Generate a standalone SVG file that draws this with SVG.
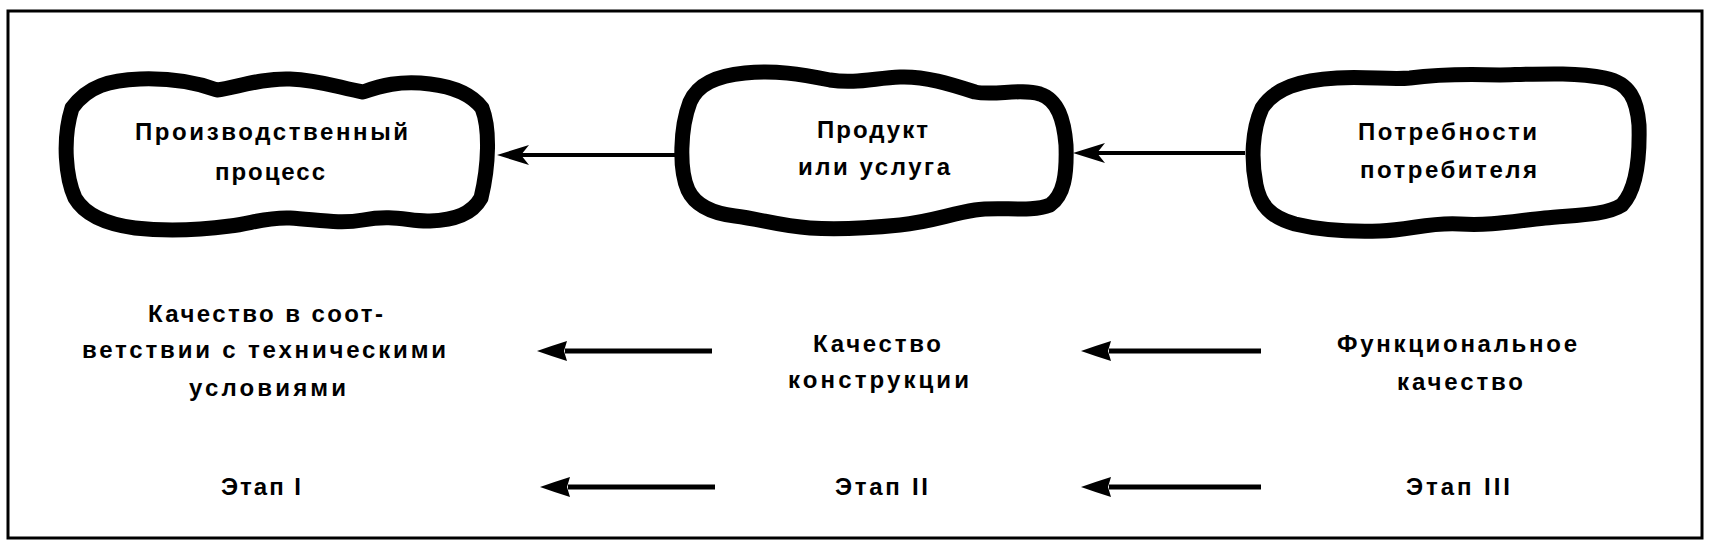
<svg xmlns="http://www.w3.org/2000/svg" width="1711" height="550" viewBox="0 0 1711 550">
<style>
.frame{fill:none;stroke:#000;stroke-width:3}
.blob{fill:#fff;stroke:#000;stroke-width:15;stroke-linejoin:round}
.t{font-family:"Liberation Sans",Arial,sans-serif;font-weight:bold;font-size:24px;fill:#000}
.c1{stroke:#000;stroke-width:4;fill:none}
.c2{stroke:#000;stroke-width:5;fill:none}
</style>
<defs>
<marker id="barb" markerUnits="userSpaceOnUse" markerWidth="40" markerHeight="26" refX="8" refY="12" orient="auto" overflow="visible">
<path d="M32,12 L0,2 L8,12 L0,22 Z" fill="#000"/>
</marker>
<marker id="solid" markerUnits="userSpaceOnUse" markerWidth="40" markerHeight="26" refX="2" refY="12" orient="auto" overflow="visible">
<path d="M30,12 Q16,7 0,2 L3,12 L0,22 Q16,17 30,12 Z" fill="#000"/>
</marker>
</defs>
<rect class="frame" x="8" y="11" width="1694" height="527"/>
<g id="connectors">
<line class="c1" x1="677" y1="155" x2="521" y2="155" marker-end="url(#barb)"/>
<line class="c1" x1="1245" y1="153" x2="1097" y2="153" marker-end="url(#barb)"/>
<line class="c2" x1="712" y1="351" x2="565" y2="351" marker-end="url(#solid)"/>
<line class="c2" x1="1261" y1="351" x2="1109" y2="351" marker-end="url(#solid)"/>
<line class="c2" x1="715" y1="487" x2="568" y2="487" marker-end="url(#solid)"/>
<line class="c2" x1="1261" y1="487" x2="1109" y2="487" marker-end="url(#solid)"/>
</g>
<g id="node-process">
<path class="blob" d="M 72,108 C 88,86 110,80 140,79 C 170,78 195,82 217,90 C 235,88 260,78 290,79 C 320,80 340,88 363,92 C 380,86 400,80 430,84 C 455,87 472,95 482,108 C 490,128 489,165 481,198 C 472,214 455,220 430,221 C 410,222 395,214 363,220 C 340,224 320,220 290,218 C 265,217 250,224 230,226 C 200,230 170,232 135,228 C 105,224 85,215 75,198 C 66,178 62,140 72,108 Z"/>
<text class="t" x="135" y="140" textLength="273" lengthAdjust="spacing">Производственный</text>
<text class="t" x="215" y="180" textLength="110" lengthAdjust="spacing">процесс</text>
</g>
<g id="node-product">
<path class="blob" d="M 690,102 C 698,84 716,76 745,73 C 775,70 800,74 830,80 C 855,84 875,78 900,77 C 925,76 950,84 975,92 C 995,96 1020,88 1040,94 C 1058,100 1064,120 1066,145 C 1067,175 1064,195 1050,205 C 1030,213 1000,206 975,210 C 950,214 930,222 900,225 C 870,228 840,230 810,228 C 780,226 760,219 735,216 C 710,213 695,205 688,190 C 679,170 680,128 690,102 Z"/>
<text class="t" x="817" y="138" textLength="111" lengthAdjust="spacing">Продукт</text>
<text class="t" x="798" y="175" textLength="152" lengthAdjust="spacing">или услуга</text>
</g>
<g id="node-needs">
<path class="blob" d="M 1262,108 C 1275,88 1300,80 1337,78 C 1365,76 1390,80 1410,78 C 1440,74 1470,74 1500,75 C 1540,74 1575,72 1605,78 C 1630,83 1637,100 1639,125 C 1640,160 1636,190 1622,205 C 1605,216 1570,215 1545,218 C 1515,221 1490,226 1460,224 C 1430,222 1410,230 1380,231 C 1350,232 1320,230 1295,224 C 1270,217 1260,205 1256,185 C 1251,160 1252,130 1262,108 Z"/>
<text class="t" x="1358" y="140" textLength="179" lengthAdjust="spacing">Потребности</text>
<text class="t" x="1360" y="178" textLength="177" lengthAdjust="spacing">потребителя</text>
</g>
<g id="label-conformance">
<text class="t" x="148" y="322" textLength="235" lengthAdjust="spacing">Качество в соот-</text>
<text class="t" x="82" y="358" textLength="364" lengthAdjust="spacing">ветствии с техническими</text>
<text class="t" x="189" y="396" textLength="157" lengthAdjust="spacing">условиями</text>
</g>
<g id="label-design">
<text class="t" x="813" y="352" textLength="128" lengthAdjust="spacing">Качество</text>
<text class="t" x="788" y="388" textLength="181" lengthAdjust="spacing">конструкции</text>
</g>
<g id="label-functional">
<text class="t" x="1337" y="352" textLength="240" lengthAdjust="spacing">Функциональное</text>
<text class="t" x="1397" y="390" textLength="126" lengthAdjust="spacing">качество</text>
</g>
<g id="stage-1"><text class="t" x="221" y="495" textLength="80" lengthAdjust="spacing">Этап I</text></g>
<g id="stage-2"><text class="t" x="835" y="495" textLength="93" lengthAdjust="spacing">Этап II</text></g>
<g id="stage-3"><text class="t" x="1406" y="495" textLength="104" lengthAdjust="spacing">Этап III</text></g>
</svg>
